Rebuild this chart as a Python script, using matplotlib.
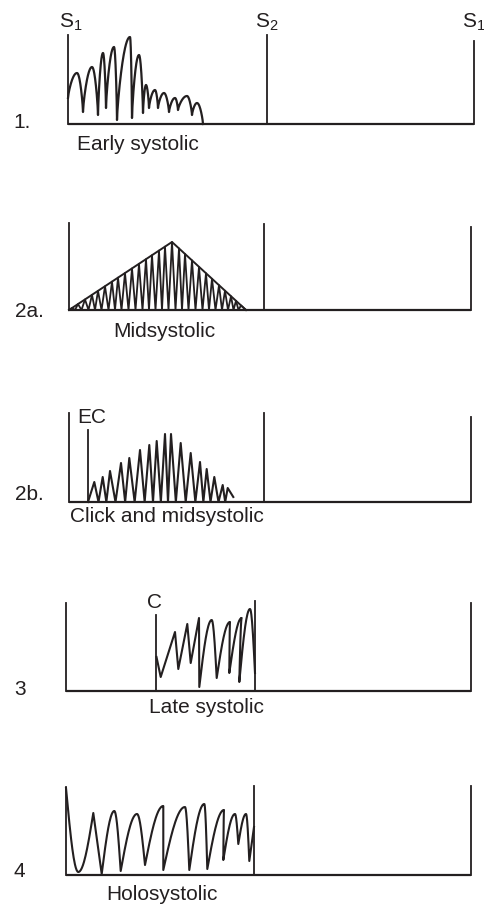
import numpy as np
import matplotlib
matplotlib.use("Agg")
import matplotlib.pyplot as plt

plt.rcParams['font.family'] = ['Liberation Sans', 'DejaVu Sans']

INK = '#231f20'

# panel frames: left edge, baseline (px from top), cycle length, S2 position,
# heights of the S1 / S2 / S1 lines
panel_left = [68, 69, 69, 66, 66]
panel_base = [124, 310, 502, 691, 875]
cycle_len = [406, 402, 402, 405, 405]
s2_pos = [199, 195, 195, 189, 188]
s1_height = [89, 87, 89, 88, 88]
s2_height = [89, 86, 89, 90, 89]
s1b_height = [83, 83, 85, 88, 89]
panel_num = ['1.', '2a.', '2b.', '3', '4']
panel_name = ['Early systolic', 'Midsystolic', 'Click and midsystolic',
              'Late systolic', 'Holosystolic']

# 1. early systolic (alternating trough / peak)
early_x = [0, 9, 15, 24, 30, 35, 38, 46, 49, 62, 64, 71, 75, 78, 81, 87, 90,
           96, 101, 107, 110, 119, 124, 129, 135]
early_h = [26, 51, 12, 57, 9, 71, 16, 77, 4, 87, 6, 69, 11, 39, 16, 34, 16,
           31, 12, 26, 14, 28, 9, 21, 0]

# 2a. midsystolic (diamond envelope + vibrations)
mid_env_x = [0, 103, 177]
mid_env_h = [0, 68, 0]
mid_peaks_x = [3, 9, 16, 23, 29, 36, 43, 49, 56, 63, 70, 77, 83, 90, 96, 103,
               110, 116, 123, 130, 137, 143, 150, 156, 162, 167, 172]

# 2b. ejection click + midsystolic
click_x = 19
click_h = 72
click_peaks_x = [25.3, 33.7, 41, 52, 60.3, 71, 80.3, 87.7, 96, 102, 111.7,
                 121.7, 131, 137.7, 145.3, 153.7, 158.7]
click_peaks_h = [20, 25, 31, 39, 44, 52, 57, 61, 68, 68, 59, 49, 40, 33, 25,
                 17, 14]
click_end = (164.3, 5)

# 3. late systolic (click C)
late_c_x = 90
late_c_h = 76
late_x = [90.5, 94.7, 109, 112.3, 121.3, 124.7, 133, 133.3, 145.7, 150.7, 164,
          163.3, 175.7, 173.3, 184, 189]
late_h = [34, 14, 59, 22, 67, 28, 73, 4, 71, 13, 69, 18, 73, 9, 82, 18]

# 4. holosystolic
holo_x = [0, 12.3, 27.3, 35.7, 48.3, 54.7, 71, 79, 97.3, 97.3, 119, 123.3,
          138.3, 141.3, 158, 157.3, 169, 172.3, 180, 183.3, 188]
holo_h = [87, 3, 62, 1, 64, 4, 61, 10, 69, 5, 68, 5, 71, 6, 65, 15, 61, 31,
          61, 14, 48]

W, H = 484, 905


def wave(xs, hs, rounded, q=0.6, n=30):
    s = np.linspace(0, 1, n)[1:]
    X, Y = [xs[0]], [hs[0]]
    for i in range(len(xs) - 1):
        x0, y0, x1, y1 = xs[i], hs[i], xs[i + 1], hs[i + 1]
        r0, r1 = rounded[i], rounded[i + 1]
        if r0 and r1:
            g = (1 - np.cos(np.pi * s)) / 2
        elif r1:
            g = np.sin(np.pi / 2 * s) ** q
        elif r0:
            g = 1 - np.sin(np.pi / 2 * (1 - s)) ** q
        else:
            g = s
        X.extend(x0 + (x1 - x0) * s)
        Y.extend(y0 + (y1 - y0) * g)
    return np.array(X), np.array(Y)


def zigzag(peaks_x, peaks_h, start, end):
    px = np.asarray(peaks_x, float)
    tr = np.concatenate([[start[0]], (px[:-1] + px[1:]) / 2])
    xs, hs = [], []
    for t, p, h in zip(tr, px, peaks_h):
        xs += [t, p]
        hs += [0, h]
    xs.append(end[0])
    hs.append(end[1])
    return xs, hs


fig = plt.figure(figsize=(W / 100, H / 100), dpi=100)
axes = []
for i in range(5):
    ax = fig.add_axes([panel_left[i] / W, (H - panel_base[i]) / H,
                       cycle_len[i] / W, 100 / H])
    ax.set_xlim(0, cycle_len[i])
    ax.set_ylim(0, 100)
    ax.axis('off')
    L = cycle_len[i]
    ax.plot([0, L], [0, 0], color=INK, lw=1.6, clip_on=False,
            solid_capstyle='butt')
    for x, h in [(0, s1_height[i]), (s2_pos[i], s2_height[i]),
                 (L, s1b_height[i])]:
        ax.plot([x, x], [0, h], color=INK, lw=1.3, clip_on=False)
    axes.append(ax)

fs = 15
kw = dict(color=INK, fontsize=fs, va='baseline')

# heart sound labels
ax = axes[0]
ax.text(3, 96, r'$\mathregular{S_1}$', ha='center', **kw)
ax.text(198.5, 96, r'$\mathregular{S_2}$', ha='center', **kw)
ax.text(406, 96, r'$\mathregular{S_1}$', ha='center', **kw)

# panel numbers and names
num_pos = [(-55, -4), (-54, -7), (-54, 2), (-52, -4), (-52, -2)]
name_pos = [(70, -26, 'center'), (95, -26.7, 'center'), (1, -19.7, 'left'),
            (140, -22, 'center'), (96, -25, 'center')]
for i in range(5):
    axes[i].text(num_pos[i][0], num_pos[i][1], panel_num[i], ha='left', **kw)
    nx, ny, ha = name_pos[i]
    axes[i].text(nx, ny, panel_name[i], ha=ha, **kw)

# 1. early systolic
rnd = [i % 2 == 1 for i in range(len(early_x))]
x, y = wave(early_x, early_h, rnd, q=0.75)
axes[0].plot(x, y, color=INK, lw=1.6, clip_on=False)

# 2a. midsystolic
mh = np.interp(mid_peaks_x, mid_env_x, mid_env_h)
xs, hs = zigzag(mid_peaks_x, mh, (0, 0), (mid_env_x[-1], 0))
axes[1].plot(xs, hs, color=INK, lw=1.3, clip_on=False)
axes[1].plot(mid_env_x, mid_env_h, color=INK, lw=1.4, clip_on=False)

# 2b. click and midsystolic
axes[2].plot([click_x, click_x], [0, click_h], color=INK, lw=1.3,
             clip_on=False)
axes[2].text(8, 79, 'EC', ha='left', **kw)
xs, hs = zigzag(click_peaks_x, click_peaks_h, (click_x, 0), click_end)
axes[2].plot(xs, hs, color=INK, lw=1.5, clip_on=False)

# 3. late systolic
axes[3].plot([late_c_x, late_c_x], [0, late_c_h], color=INK, lw=1.3,
             clip_on=False)
axes[3].text(88.5, 83, 'C', ha='center', **kw)
rnd = [i in (8, 10, 12, 14) for i in range(len(late_x))]
x, y = wave(late_x, late_h, rnd, q=1.0)
axes[3].plot(x, y, color=INK, lw=1.5, clip_on=False)

# 4. holosystolic
rnd = [i == 1 or (i % 2 == 0 and i not in (0, 2, 20))
       for i in range(len(holo_x))]
x, y = wave(holo_x, holo_h, rnd, q=1.0)
axes[4].plot(x, y, color=INK, lw=1.5, clip_on=False)

fig.savefig('out.png', dpi=100)
